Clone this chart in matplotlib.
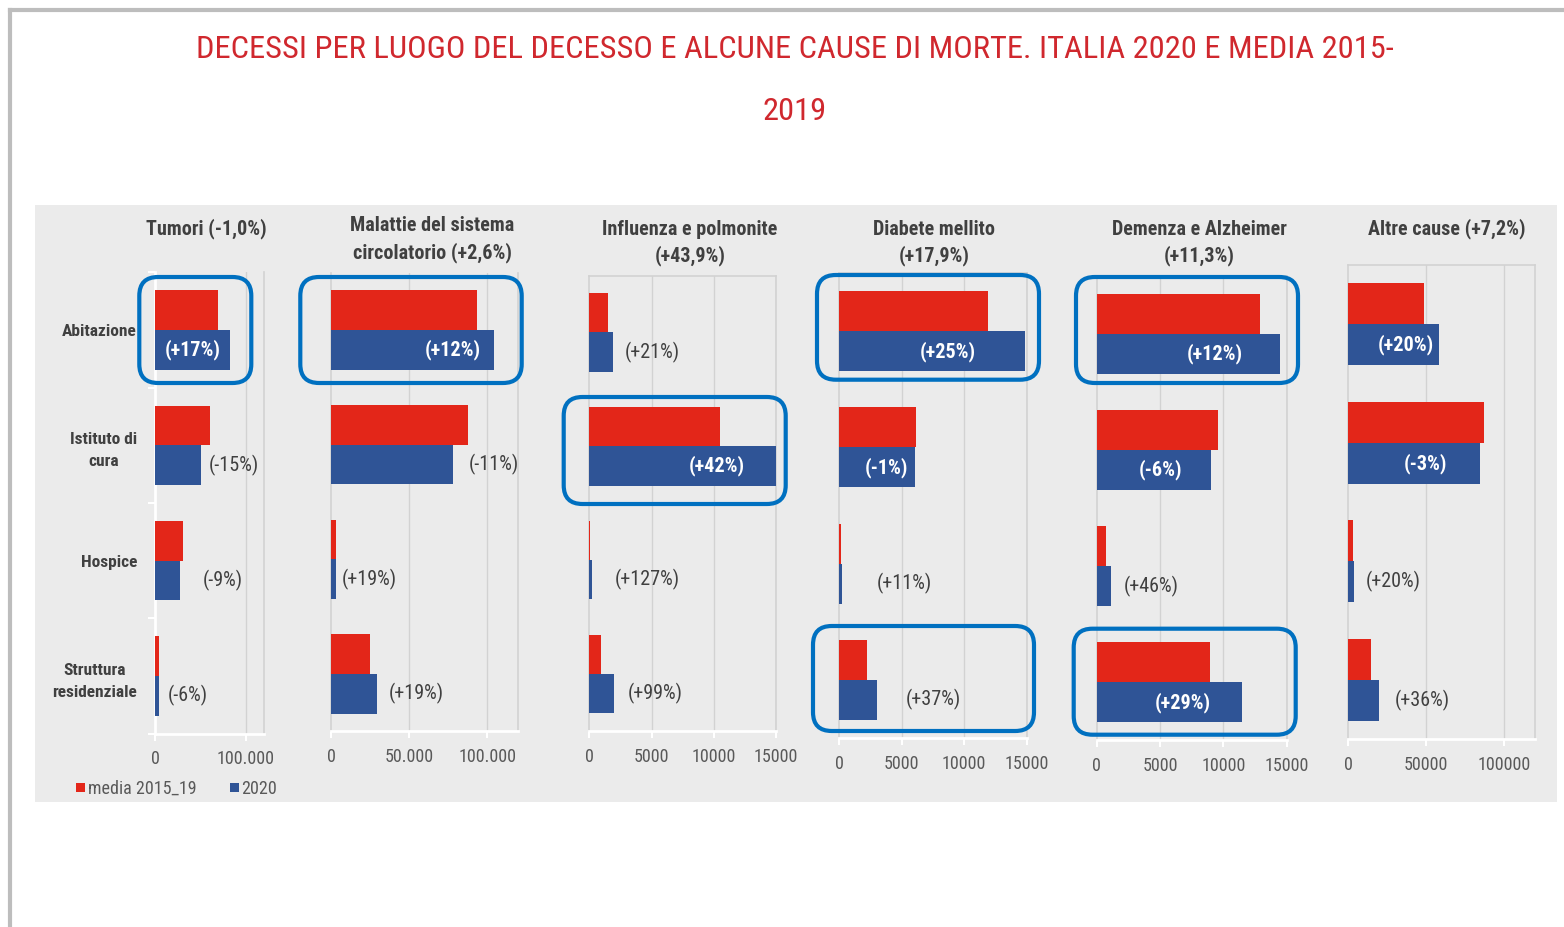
import matplotlib
matplotlib.use("Agg")
import matplotlib.pyplot as plt
from matplotlib.patches import Rectangle, FancyBboxPatch
from matplotlib.lines import Line2D

plt.rcParams["font.family"] = ["Roboto Condensed", "DejaVu Sans Condensed",
                               "Liberation Sans Narrow", "Liberation Sans", "DejaVu Sans"]

# ---- data ----
categories = ["Abitazione", "Istituto di\ncura", "Hospice", "Struttura\nresidenziale"]
panel_titles = ["Tumori (-1,0%)",
                "Malattie del sistema\ncircolatorio (+2,6%)",
                "Influenza e polmonite\n(+43,9%)",
                "Diabete mellito\n(+17,9%)",
                "Demenza e Alzheimer\n(+11,3%)",
                "Altre cause (+7,2%)"]

media_tumori = [70000, 60700, 31400, 4800]
d2020_tumori = [82600, 51100, 28100, 4500]
media_circ = [93400, 87800, 2800, 25000]
d2020_circ = [104600, 78100, 3300, 29500]
media_infl = [1530, 10540, 90, 965]
d2020_infl = [1880, 14970, 205, 1985]
media_diab = [11890, 6140, 150, 2245]
d2020_diab = [14860, 6080, 200, 3045]
media_dem = [12930, 9610, 765, 8950]
d2020_dem = [14480, 9030, 1105, 11510]
media_altre = [48630, 87400, 2800, 14350]
d2020_altre = [58400, 84640, 3360, 19930]

labels_tumori = ["(+17%)", "(-15%)", "(-9%)", "(-6%)"]
labels_circ = ["(+12%)", "(-11%)", "(+19%)", "(+19%)"]
labels_infl = ["(+21%)", "(+42%)", "(+127%)", "(+99%)"]
labels_diab = ["(+25%)", "(-1%)", "(+11%)", "(+37%)"]
labels_dem = ["(+12%)", "(-6%)", "(+46%)", "(+29%)"]
labels_altre = ["(+20%)", "(-3%)", "(+20%)", "(+36%)"]

xticks_tumori = [0, 100000]
xticks_circ = [0, 50000, 100000]
xticks_small = [0, 5000, 10000, 15000]
xticks_altre = [0, 50000, 100000]
xticklabels_tumori = ["0", "100.000"]
xticklabels_circ = ["0", "50.000", "100.000"]
xticklabels_small = ["0", "5000", "10000", "15000"]
xticklabels_altre = ["0", "50000", "100000"]

legend_labels = ["media 2015_19", "2020"]

# ---- layout (pixels in a 1564x927 canvas) ----
W, H = 1564, 927
RED = "#e32619"
BLUE = "#2f5496"
BG = "#ebebeb"
GRID = "#d2d2d2"
DARK = "#404040"
TICK = "#595959"

panels = [
    dict(m=media_tumori, n=d2020_tumori, lab=labels_tumori, xmax=120000,
         ticks=xticks_tumori, tl=xticklabels_tumori, box=(155, 263.7, 272.3, 733.7),
         off=[-9, 7, 22, 9], title=(206.5, 229), top=False),
    dict(m=media_circ, n=d2020_circ, lab=labels_circ, xmax=120000,
         ticks=xticks_circ, tl=xticklabels_circ, box=(331.3, 518.3, 272.7, 731.3),
         off=[-14, 16, 5, 11], title=(432, 239.5), top=False),
    dict(m=media_infl, n=d2020_infl, lab=labels_infl, xmax=15000,
         ticks=xticks_small, tl=xticklabels_small, box=(589.3, 776, 275.5, 731),
         off=[12, -31, 23, 14], title=(690, 243), top=True),
    dict(m=media_diab, n=d2020_diab, lab=labels_diab, xmax=15000,
         ticks=xticks_small, tl=xticklabels_small, box=(839.3, 1026.7, 273, 738),
         off=[-49, -7, 35, 28], title=(934, 243), top=True),
    dict(m=media_dem, n=d2020_dem, lab=labels_dem, xmax=15000,
         ticks=xticks_small, tl=xticklabels_small, box=(1096.7, 1286.7, 276, 740.3),
         off=[-37, -29, 13, -32], title=(1199, 243), top=True),
    dict(m=media_altre, n=d2020_altre, lab=labels_altre, xmax=120000,
         ticks=xticks_altre, tl=xticklabels_altre, box=(1348.3, 1535, 265, 739),
         off=[-5, -33, 12, 15], title=(1447, 229), top=True),
]

highlights = [(137.3, 253.3, 275, 385), (298.3, 523.7, 275, 385),
              (561.7, 787.7, 395, 506), (815, 1041, 273, 381.7),
              (811, 1036, 624, 733), (1074, 1300, 275, 385),
              (1071.7, 1297.7, 626.7, 736.7)]


def fx(x):
    return x / W


def fy(y):
    return 1 - y / H


fig = plt.figure(figsize=(W / 100, H / 100), dpi=100)

# outer frame and grey panel
fig.add_artist(Line2D([fx(10), fx(10)], [fy(10), 0], color="#bdbdbd", lw=3))
fig.add_artist(Line2D([fx(10), 1], [fy(10), fy(10)], color="#bdbdbd", lw=3))
fig.add_artist(Rectangle((fx(35), fy(802)), fx(1557) - fx(35), fy(205) - fy(802),
                         transform=fig.transFigure, facecolor=BG, edgecolor="none",
                         zorder=-5))

fig.text(fx(795), fy(50), "DECESSI PER LUOGO DEL DECESSO E ALCUNE CAUSE DI MORTE. "
         "ITALIA 2020 E MEDIA 2015-", color="#d0282e", fontsize=23.4,
         ha="center", va="center")
fig.text(fx(795), fy(112), "2019", color="#d0282e", fontsize=23.4,
         ha="center", va="center")

h = 0.345
pos = list(range(len(categories)))
for k, p in enumerate(panels):
    x0, x1, yt, yb = p["box"]
    ax = fig.add_axes([fx(x0), fy(yb), fx(x1) - fx(x0), fy(yt) - fy(yb)])
    ax.set_facecolor(BG)
    ax.barh([i - h / 2 for i in pos], p["m"], height=h, color=RED, zorder=3)
    ax.barh([i + h / 2 for i in pos], p["n"], height=h, color=BLUE, zorder=3)
    ax.set_xlim(0, p["xmax"])
    ax.set_ylim(3.5, -0.5)
    ax.set_xticks(p["ticks"])
    ax.set_xticklabels(p["tl"])
    ax.tick_params(axis="x", colors="white", length=5, width=1.5, pad=7,
                   labelcolor=TICK, labelsize=13)
    for g in p["ticks"][1:]:
        ax.axvline(g, color=GRID, lw=1, zorder=1)
    for s in ["left", "right", "top"]:
        ax.spines[s].set_color(GRID)
        ax.spines[s].set_linewidth(1.2)
    ax.spines["top"].set_visible(p["top"])
    ax.spines["bottom"].set_color("white")
    ax.spines["bottom"].set_linewidth(2)
    if k == 0:
        ax.spines["left"].set_color("white")
        ax.spines["left"].set_linewidth(2)
        ax.set_yticks(pos)
        ax.set_yticklabels(categories, fontsize=12.5, fontweight="bold",
                           color=DARK, multialignment="center")
        for t in ax.get_yticklabels():
            t.set_linespacing(1.6)
        ax.tick_params(axis="y", length=0, pad=13)
        ax.set_yticks([-0.5, 0.5, 1.5, 2.5, 3.5], minor=True)
        ax.tick_params(axis="y", which="minor", length=5, width=1.5, colors="white")
    else:
        ax.set_yticks([])
    for i in pos:
        d = p["off"][i]
        if d < 0:
            ax.annotate(p["lab"][i], (p["n"][i], i + h / 2), xytext=(d * 0.72, 0),
                        textcoords="offset points", ha="right", va="center",
                        color="white", fontweight="bold", fontsize=14.5, zorder=5)
        else:
            ax.annotate(p["lab"][i], (p["n"][i], i + h / 2), xytext=(d * 0.72, 0),
                        textcoords="offset points", ha="left", va="center",
                        color=DARK, fontsize=14.5, zorder=5)
    tx, ty = p["title"]
    fig.text(fx(tx), fy(ty), panel_titles[k], ha="center", va="center",
             fontsize=14.5, fontweight="bold", color=DARK, linespacing=1.4)

for x0, x1, yt, yb in highlights:
    fig.add_artist(FancyBboxPatch((fx(x0 + 2), fy(yb - 2)), fx(x1 - x0 - 4), fy(0) - fy(yb - yt - 4),
                                  boxstyle="round,pad=0,rounding_size=0.012",
                                  transform=fig.transFigure, facecolor="none",
                                  edgecolor="#0070c0", lw=3, zorder=10,
                                  mutation_aspect=W / H))

# legend
fig.add_artist(Rectangle((fx(76), fy(792)), fx(9), fy(0) - fy(9), transform=fig.transFigure,
                         facecolor=RED, edgecolor="none"))
fig.text(fx(88), fy(789), legend_labels[0], fontsize=13, color=TICK, va="center")
fig.add_artist(Rectangle((fx(229.5), fy(792)), fx(9), fy(0) - fy(9), transform=fig.transFigure,
                         facecolor=BLUE, edgecolor="none"))
fig.text(fx(241.5), fy(789), legend_labels[1], fontsize=13, color=TICK, va="center")

fig.savefig("out.png", dpi=100, facecolor="white")
